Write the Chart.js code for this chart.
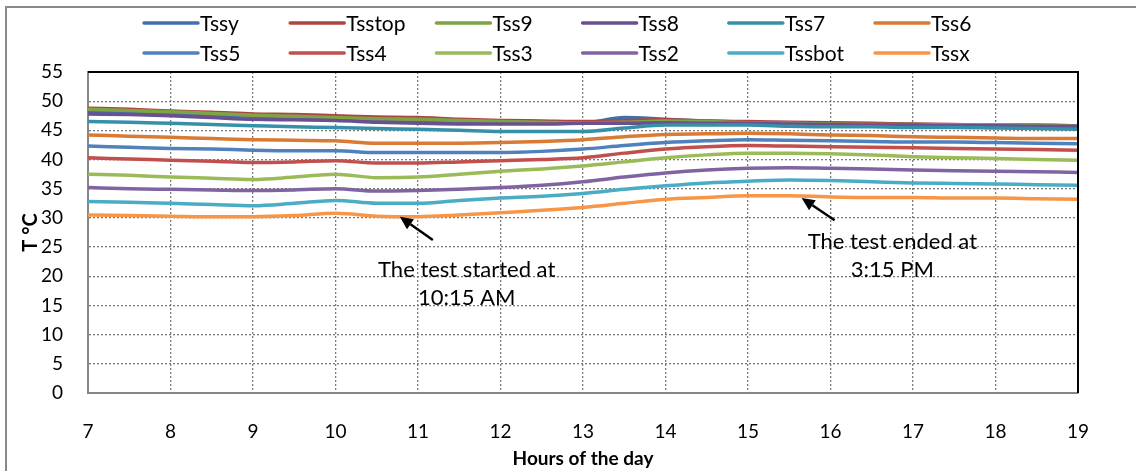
<!DOCTYPE html>
<html><head><meta charset="utf-8">
<script src="https://cdn.jsdelivr.net/npm/chart.js@4.4.1/dist/chart.umd.min.js"></script>
<style>
html,body{margin:0;padding:0;background:#fff;}
#wrap{position:relative;width:1136px;height:471px;overflow:hidden;background:#fff;}
#frame{position:absolute;left:5px;top:6px;width:1200px;height:600px;border:2px solid #8a8a8a;box-sizing:border-box;}
canvas{position:absolute;left:0;top:0;}
</style></head><body>
<div id="wrap"><div id="frame"></div><canvas id="c" width="1136" height="471"></canvas></div>
<script>
// ---- data ----
const hours = [7,7.5,8,8.5,9,9.5,10,10.5,11,11.5,12,12.5,13,13.5,14,14.5,15,15.5,16,16.5,17,17.5,18,18.5,19];
const seriesNames = ['Tssy','Tsstop','Tss9','Tss8','Tss7','Tss6','Tss5','Tss4','Tss3','Tss2','Tssbot','Tssx'];
const seriesColors = ['#4070AE','#AE4542','#7FA444','#6A5090','#3690A8','#D97A35','#4F81BD','#C0504D','#9BBB59','#8064A2','#4BACC6','#F79646'];
const Tssy   = [48.2,48.0,47.8,47.6,47.4,47.2,47.0,46.8,46.7,46.5,46.4,46.3,46.3,47.2,46.9,46.6,46.4,46.3,46.2,46.1,46.0,45.9,45.8,45.7,45.6];
const Tsstop = [48.8,48.6,48.3,48.1,47.8,47.7,47.5,47.3,47.2,46.9,46.7,46.6,46.5,46.7,46.8,46.6,46.5,46.4,46.3,46.2,46.1,46.0,45.9,45.9,45.8];
const Tss9   = [48.6,48.4,48.2,47.9,47.6,47.4,47.2,47.0,46.9,46.7,46.5,46.4,46.3,46.4,46.6,46.5,46.3,46.2,46.1,46.0,46.0,45.9,45.9,45.8,45.8];
const Tss8   = [47.8,47.7,47.5,47.2,46.9,46.8,46.7,46.4,46.2,46.1,46.1,46.1,46.2,46.2,46.3,46.2,46.2,46.1,46.0,45.9,45.9,45.8,45.8,45.7,45.7];
const Tss7   = [46.5,46.4,46.2,46.0,45.8,45.6,45.5,45.3,45.2,45.0,44.8,44.8,44.8,45.4,45.9,45.9,45.9,45.7,45.6,45.6,45.5,45.5,45.4,45.3,45.2];
const Tss6   = [44.2,44.0,43.8,43.6,43.4,43.3,43.2,42.8,42.8,42.8,42.9,43.1,43.4,43.9,44.3,44.4,44.5,44.4,44.2,44.1,43.9,43.8,43.7,43.6,43.6];
const Tss5   = [42.3,42.1,41.9,41.8,41.6,41.5,41.5,41.2,41.2,41.2,41.2,41.4,41.8,42.4,42.9,43.2,43.4,43.3,43.2,43.1,43.0,43.0,42.9,42.8,42.7];
const Tss4   = [40.3,40.1,39.9,39.7,39.5,39.6,39.8,39.4,39.4,39.6,39.8,40.0,40.3,41.1,41.8,42.2,42.4,42.3,42.2,42.1,42.0,41.9,41.8,41.7,41.6];
const Tss3   = [37.5,37.3,37.0,36.8,36.6,37.0,37.5,36.9,37.0,37.5,38.0,38.4,38.9,39.6,40.3,40.8,41.1,41.1,41.0,40.8,40.5,40.3,40.2,40.0,39.9];
const Tss2   = [35.2,35.0,34.9,34.8,34.7,34.8,35.0,34.6,34.7,34.9,35.2,35.6,36.2,37.0,37.7,38.2,38.5,38.6,38.5,38.4,38.2,38.1,38.0,37.9,37.8];
const Tssbot = [32.8,32.7,32.5,32.3,32.1,32.5,33.0,32.5,32.5,33.0,33.4,33.7,34.2,34.9,35.5,36.0,36.3,36.5,36.4,36.2,36.0,35.9,35.8,35.7,35.6];
const Tssx   = [30.5,30.4,30.3,30.2,30.2,30.4,30.8,30.3,30.2,30.5,30.9,31.3,31.8,32.5,33.2,33.5,33.8,33.8,33.6,33.5,33.5,33.4,33.4,33.3,33.2];
const seriesValues = [Tssy,Tsstop,Tss9,Tss8,Tss7,Tss6,Tss5,Tss4,Tss3,Tss2,Tssbot,Tssx];
const xMin = 7, xMax = 19, xStep = 1;
const yMin = 0, yMax = 55, yStep = 5;
const xTitle = 'Hours of the day';
const yTitle = 'T °C';
// annotations: arrow head/tail and text anchor in data units
const notes = [
  {head:[10.78,30.2], tail:[11.18,26.2], lines:['The test started at','10:15 AM'], at:[11.59,21.1]},
  {head:[15.65,33.4], tail:[16.05,29.6], lines:['The test ended at','3:15 PM'], at:[16.75,25.9]}
];

const FONT = 'Lato, "Open Sans", sans-serif';

const datasets = seriesNames.map((n,i)=>({
  label:n,
  data: hours.map((h,k)=>({x:h,y:seriesValues[i][k]})),
  borderColor: seriesColors[i],
  backgroundColor: seriesColors[i],
  borderWidth: 3.5,
  pointRadius: 0,
  tension: 0.4,
  cubicInterpolationMode: 'monotone',
  order: seriesNames.length - i
}));

const framePlugin = {
  id:'frame',
  afterDatasetsDraw(chart){
    const {ctx, chartArea:a} = chart;
    ctx.save();
    ctx.strokeStyle = '#000'; ctx.lineWidth = 2;
    ctx.beginPath();
    ctx.moveTo(a.left, a.top); ctx.lineTo(a.right, a.top); ctx.lineTo(a.right, a.bottom);
    ctx.stroke();
    ctx.restore();
  }
};

const legendPlugin = {
  id:'customLegend',
  afterDraw(chart){
    const ctx = chart.ctx;
    ctx.save();
    ctx.font = '21px ' + FONT;
    ctx.textBaseline = 'middle';
    ctx.textAlign = 'left';
    chart.data.datasets.forEach((ds,i)=>{
      const col = i % 6, row = Math.floor(i/6);
      const x = 144 + col*146.2, y = row ? 53 : 23;
      ctx.strokeStyle = ds.borderColor; ctx.lineWidth = 3.5; ctx.lineCap='round';
      ctx.beginPath(); ctx.moveTo(x, y); ctx.lineTo(x+54, y); ctx.stroke();
      ctx.fillStyle = '#000';
      ctx.fillText(ds.label, x+56, y+1);
    });
    ctx.restore();
  }
};

const notePlugin = {
  id:'notes',
  afterDraw(chart){
    const ctx = chart.ctx, sx = chart.scales.x, sy = chart.scales.y;
    ctx.save();
    notes.forEach(n=>{
      const hx = sx.getPixelForValue(n.head[0]), hy = sy.getPixelForValue(n.head[1]);
      const tx = sx.getPixelForValue(n.tail[0]), ty = sy.getPixelForValue(n.tail[1]);
      const ang = Math.atan2(hy-ty, hx-tx);
      const L = 13, W = 6;
      const bx = hx - L*Math.cos(ang), by = hy - L*Math.sin(ang);
      ctx.strokeStyle = '#000'; ctx.fillStyle = '#000'; ctx.lineWidth = 2.5;
      ctx.beginPath(); ctx.moveTo(tx,ty); ctx.lineTo(bx,by); ctx.stroke();
      ctx.beginPath();
      ctx.moveTo(hx,hy);
      ctx.lineTo(bx + W*Math.sin(ang), by - W*Math.cos(ang));
      ctx.lineTo(bx - W*Math.sin(ang), by + W*Math.cos(ang));
      ctx.closePath(); ctx.fill();
      ctx.font = '22px ' + FONT;
      ctx.textAlign = 'center'; ctx.textBaseline = 'middle';
      const cx = sx.getPixelForValue(n.at[0]), cy = sy.getPixelForValue(n.at[1]);
      n.lines.forEach((t,k)=> ctx.fillText(t, cx, cy + k*28));
    });
    ctx.restore();
  }
};

new Chart(document.getElementById('c'), {
  type:'line',
  data:{datasets},
  options:{
    responsive:false,
    animation:false,
    devicePixelRatio:1,
    layout:{padding:{top:72,right:58,left:0,bottom:0}},
    plugins:{legend:{display:false},tooltip:{enabled:false}},
    scales:{
      x:{
        type:'linear', min:xMin, max:xMax,
        afterFit(s){ s.height = 78; },
        ticks:{stepSize:xStep, color:'#000', font:{family:FONT,size:19}, padding:27, maxRotation:0},
        grid:{drawTicks:false, lineWidth:1.3, color:c=> (c.tick && (c.tick.value===xMin||c.tick.value===xMax)) ? 'rgba(0,0,0,0)' : '#7a7a7a'},
        border:{color:'#868686', width:2, dash:[2,2]},
        title:{display:true, text:xTitle, color:'#000', font:{family:FONT,size:19,weight:'bold'}, padding:{top:0,bottom:1}}
      },
      y:{
        min:yMin, max:yMax,
        afterFit(s){ s.width = 88; },
        ticks:{stepSize:yStep, color:'#000', font:{family:FONT,size:19}, padding:25},
        grid:{drawTicks:false, lineWidth:1.3, color:c=> (c.tick && (c.tick.value===yMin||c.tick.value===yMax)) ? 'rgba(0,0,0,0)' : '#7a7a7a'},
        border:{color:'#868686', width:2, dash:[2,2]},
        title:{display:true, text:yTitle, color:'#000', font:{family:FONT,size:20,weight:'bold'}, padding:{top:19,bottom:0}}
      }
    }
  },
  plugins:[framePlugin, legendPlugin, notePlugin]
});
</script>
</body></html>
